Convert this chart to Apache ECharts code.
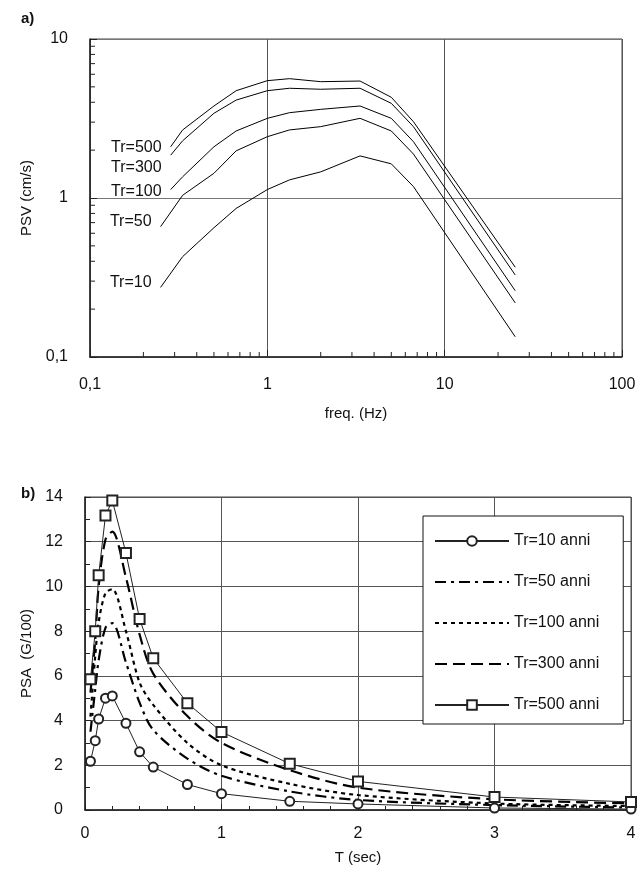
<!DOCTYPE html>
<html>
<head>
<meta charset="utf-8">
<script src="https://cdn.jsdelivr.net/npm/echarts@6/dist/echarts.min.js"></script>
<style>
  html, body { margin: 0; padding: 0; background: #fff; }
  #chart { width: 641px; height: 879px; }
</style>
</head>
<body>
<div id="chart"></div>
<script>
// a) PSV (cm/s) vs freq (Hz)
const freq = [0.25, 0.333, 0.5, 0.667, 1, 1.333, 2, 3.333, 5, 6.667, 25];
const firstFreq = [0.25, 0.25, 0.285, 0.285, 0.285];
const psvNames = ['Tr=10', 'Tr=50', 'Tr=100', 'Tr=300', 'Tr=500'];
const psv10 = [0.274, 0.428, 0.65, 0.86, 1.13, 1.30, 1.46, 1.84, 1.64, 1.18, 0.134];
const psv50 = [0.66, 1.04, 1.43, 1.98, 2.43, 2.68, 2.81, 3.17, 2.64, 1.89, 0.219];
const psv100 = [1.13, 1.36, 2.10, 2.64, 3.17, 3.44, 3.61, 3.79, 3.17, 2.26, 0.261];
const psv300 = [1.86, 2.29, 3.41, 4.13, 4.73, 4.90, 4.83, 4.90, 3.94, 2.81, 0.328];
const psv500 = [2.10, 2.68, 3.79, 4.73, 5.47, 5.63, 5.39, 5.44, 4.30, 3.02, 0.367];

// b) PSA (G/100) vs T (sec)
const period = [0.04, 0.075, 0.1, 0.15, 0.2, 0.3, 0.4, 0.5, 0.75, 1, 1.5, 2, 3, 4];
const psaNames = ['Tr=10 anni', 'Tr=50 anni', 'Tr=100 anni', 'Tr=300 anni', 'Tr=500 anni'];
const psa10 = [2.18, 3.1, 4.07, 5.0, 5.1, 3.88, 2.6, 1.92, 1.14, 0.73, 0.39, 0.27, 0.09, 0.04];
const psa50 = [3.5, 5.4, 6.7, 8.15, 8.36, 6.6, 4.8, 3.58, 2.3, 1.53, 0.83, 0.45, 0.22, 0.11];
const psa100 = [4.18, 6.9, 8.4, 9.7, 9.88, 8.0, 5.7, 4.7, 3.0, 2.0, 1.17, 0.67, 0.29, 0.18];
const psa300 = [5.25, 7.6, 10.0, 12.1, 12.45, 10.4, 7.85, 6.1, 4.2, 3.0, 1.78, 1.0, 0.48, 0.30];
const psa500 = [5.85, 8.0, 10.5, 13.17, 13.84, 11.5, 8.54, 6.79, 4.78, 3.49, 2.07, 1.28, 0.58, 0.36];

// minor ticks of the log axes
const minorFreq = [0.2, 0.3, 0.4, 0.5, 0.6, 0.7, 0.8, 0.9, 2, 3, 4, 5, 6, 7, 8, 9, 20, 30, 40, 50, 60, 70, 80, 90];
const minorPsv = [0.2, 0.3, 0.4, 0.5, 0.6, 0.7, 0.8, 0.9, 2, 3, 4, 5, 6, 7, 8, 9];

const FONT = 'Liberation Sans, Arial, sans-serif';
const INK = '#111';

const chart = echarts.init(document.getElementById('chart'));

// etichetta a virgola decimale
function comma(v) {
  return String(+v.toPrecision(6)).replace('.', ',');
}

// serie custom per le tacche secondarie degli assi log
function minorTicks(vals, dir) {
  return {
    type: 'custom',
    xAxisIndex: 0,
    yAxisIndex: 0,
    silent: true,
    z: 5,
    data: vals.map(v => dir === 'x' ? [v, 0.1] : [0.1, v]),
    renderItem: function (params, api) {
      const p = api.coord([api.value(0), api.value(1)]);
      const shape = dir === 'x'
        ? { x1: p[0], y1: p[1], x2: p[0], y2: p[1] - 5 }
        : { x1: p[0], y1: p[1], x2: p[0] + 5, y2: p[1] };
      return { type: 'line', shape: shape, style: { stroke: '#222', lineWidth: 1 } };
    }
  };
}

const psvSets = [psv10, psv50, psv100, psv300, psv500];
const labelOffsets = [[0, -5], [0, -5], [0, 2], [0, 12], [0, 1]];

const psvSeries = psvSets.map((vals, k) => ({
  name: psvNames[k],
  type: 'line',
  xAxisIndex: 0,
  yAxisIndex: 0,
  symbol: 'circle',
  symbolSize: 0,
  showSymbol: true,
  silent: true,
  lineStyle: { color: '#000', width: 1 },
  itemStyle: { color: '#000' },
  label: {
    show: true,
    position: 'left',
    distance: 9,
    offset: labelOffsets[k],
    color: INK,
    fontFamily: FONT,
    fontSize: 16,
    formatter: p => p.dataIndex === 0 ? psvNames[k] : ''
  },
  data: freq.map((f, i) => [i === 0 ? firstFreq[k] : f, vals[i]])
}));

function psaLine(name, vals, extra) {
  return Object.assign({
    name: name,
    type: 'line',
    xAxisIndex: 1,
    yAxisIndex: 1,
    symbol: 'none',
    data: period.map((t, i) => [t, vals[i]])
  }, extra);
}

const psaSeries = [
  psaLine(psaNames[0], psa10, {
    symbol: 'emptyCircle', symbolSize: 9,
    lineStyle: { color: '#222', width: 1 },
    itemStyle: { color: '#222', borderWidth: 1 },
    z: 4
  }),
  psaLine(psaNames[1], psa50, {
    smooth: 0.3,
    lineStyle: { color: '#000', width: 2.2, type: [11, 5, 3, 5] },
    itemStyle: { color: '#000' }
  }),
  psaLine(psaNames[2], psa100, {
    smooth: 0.3,
    lineStyle: { color: '#000', width: 2.2, type: [4, 4] },
    itemStyle: { color: '#000' }
  }),
  psaLine(psaNames[3], psa300, {
    smooth: 0.3,
    lineStyle: { color: '#000', width: 2.2, type: [12, 6] },
    itemStyle: { color: '#000' }
  }),
  psaLine(psaNames[4], psa500, {
    symbol: 'emptyRect', symbolSize: 10,
    lineStyle: { color: '#222', width: 1 },
    itemStyle: { color: '#222', borderWidth: 1 },
    z: 4
  })
];

// le serie tratteggiate non hanno simbolo nella legenda
const legendItems = psaNames.map((n, i) =>
  (i === 0 || i === 4) ? { name: n } : { name: n, itemStyle: { opacity: 0 } });

const option = {
  backgroundColor: '#fff',
  animation: false,
  textStyle: { fontFamily: FONT, color: INK },
  title: [
    { text: 'a)', left: 16, top: 6, textStyle: { fontFamily: FONT, fontSize: 15, fontWeight: 'bold', color: INK } },
    { text: 'b)', left: 16, top: 481, textStyle: { fontFamily: FONT, fontSize: 15, fontWeight: 'bold', color: INK } }
  ],
  legend: {
    data: legendItems,
    orient: 'vertical',
    left: 423,
    top: 516,
    itemWidth: 74,
    itemHeight: 12,
    itemGap: 25,
    padding: [17, 24, 11, 11],
    borderColor: '#111',
    borderWidth: 1,
    backgroundColor: '#fff',
    selectedMode: false,
    textStyle: { fontFamily: FONT, fontSize: 16, color: INK }
  },
  grid: [
    { left: 90, top: 39, width: 532, height: 318, show: true, borderColor: '#444', borderWidth: 1, backgroundColor: 'transparent' },
    { left: 85, top: 497, width: 546, height: 313, show: true, borderColor: '#444', borderWidth: 1, backgroundColor: 'transparent' }
  ],
  xAxis: [
    {
      type: 'log', logBase: 10, gridIndex: 0, min: 0.1, max: 100,
      name: 'freq. (Hz)', nameLocation: 'middle', nameGap: 49,
      nameTextStyle: { fontFamily: FONT, fontSize: 15, color: INK },
      axisLine: { lineStyle: { color: '#222', width: 1.5 } },
      axisTick: { inside: true, length: 7, lineStyle: { color: '#222' } },
      axisLabel: { margin: 20, fontSize: 16, color: INK, fontFamily: FONT, formatter: comma },
      splitLine: { show: true, lineStyle: { color: '#555', width: 1 } }
    },
    {
      type: 'value', gridIndex: 1, min: 0, max: 4, interval: 1,
      name: 'T (sec)', nameLocation: 'middle', nameGap: 40,
      nameTextStyle: { fontFamily: FONT, fontSize: 15, color: INK },
      axisLine: { lineStyle: { color: '#222', width: 1.5 } },
      axisTick: { inside: true, length: 6, lineStyle: { color: '#222' } },
      minorTick: { show: true, splitNumber: 5, length: 4, lineStyle: { color: '#222' } },
      axisLabel: { margin: 16, fontSize: 16, color: INK, fontFamily: FONT },
      splitLine: { show: true, lineStyle: { color: '#555', width: 1 } }
    }
  ],
  yAxis: [
    {
      type: 'log', logBase: 10, gridIndex: 0, min: 0.1, max: 10,
      name: 'PSV (cm/s)', nameLocation: 'middle', nameGap: 42,
      nameTextStyle: { fontFamily: FONT, fontSize: 15, color: INK },
      axisLine: { lineStyle: { color: '#222', width: 1.5 } },
      axisTick: { inside: true, length: 7, lineStyle: { color: '#222' } },
      axisLabel: { margin: 22, fontSize: 16, color: INK, fontFamily: FONT, formatter: comma },
      splitLine: { show: true, lineStyle: { color: '#777', width: 1 } }
    },
    {
      type: 'value', gridIndex: 1, min: 0, max: 14, interval: 2,
      name: 'PSA  (G/100)', nameLocation: 'middle', nameGap: 37,
      nameTextStyle: { fontFamily: FONT, fontSize: 15, color: INK },
      axisLine: { lineStyle: { color: '#222', width: 1.5 } },
      axisTick: { inside: true, length: 6, lineStyle: { color: '#222' } },
      minorTick: { show: true, splitNumber: 2, length: 5, lineStyle: { color: '#222' } },
      axisLabel: { margin: 22, fontSize: 16, color: INK, fontFamily: FONT },
      splitLine: { show: true, lineStyle: { color: '#555', width: 1 } }
    }
  ],
  series: psvSeries
    .concat([minorTicks(minorFreq, 'x'), minorTicks(minorPsv, 'y')])
    .concat(psaSeries)
};

chart.setOption(option);
</script>
</body>
</html>
